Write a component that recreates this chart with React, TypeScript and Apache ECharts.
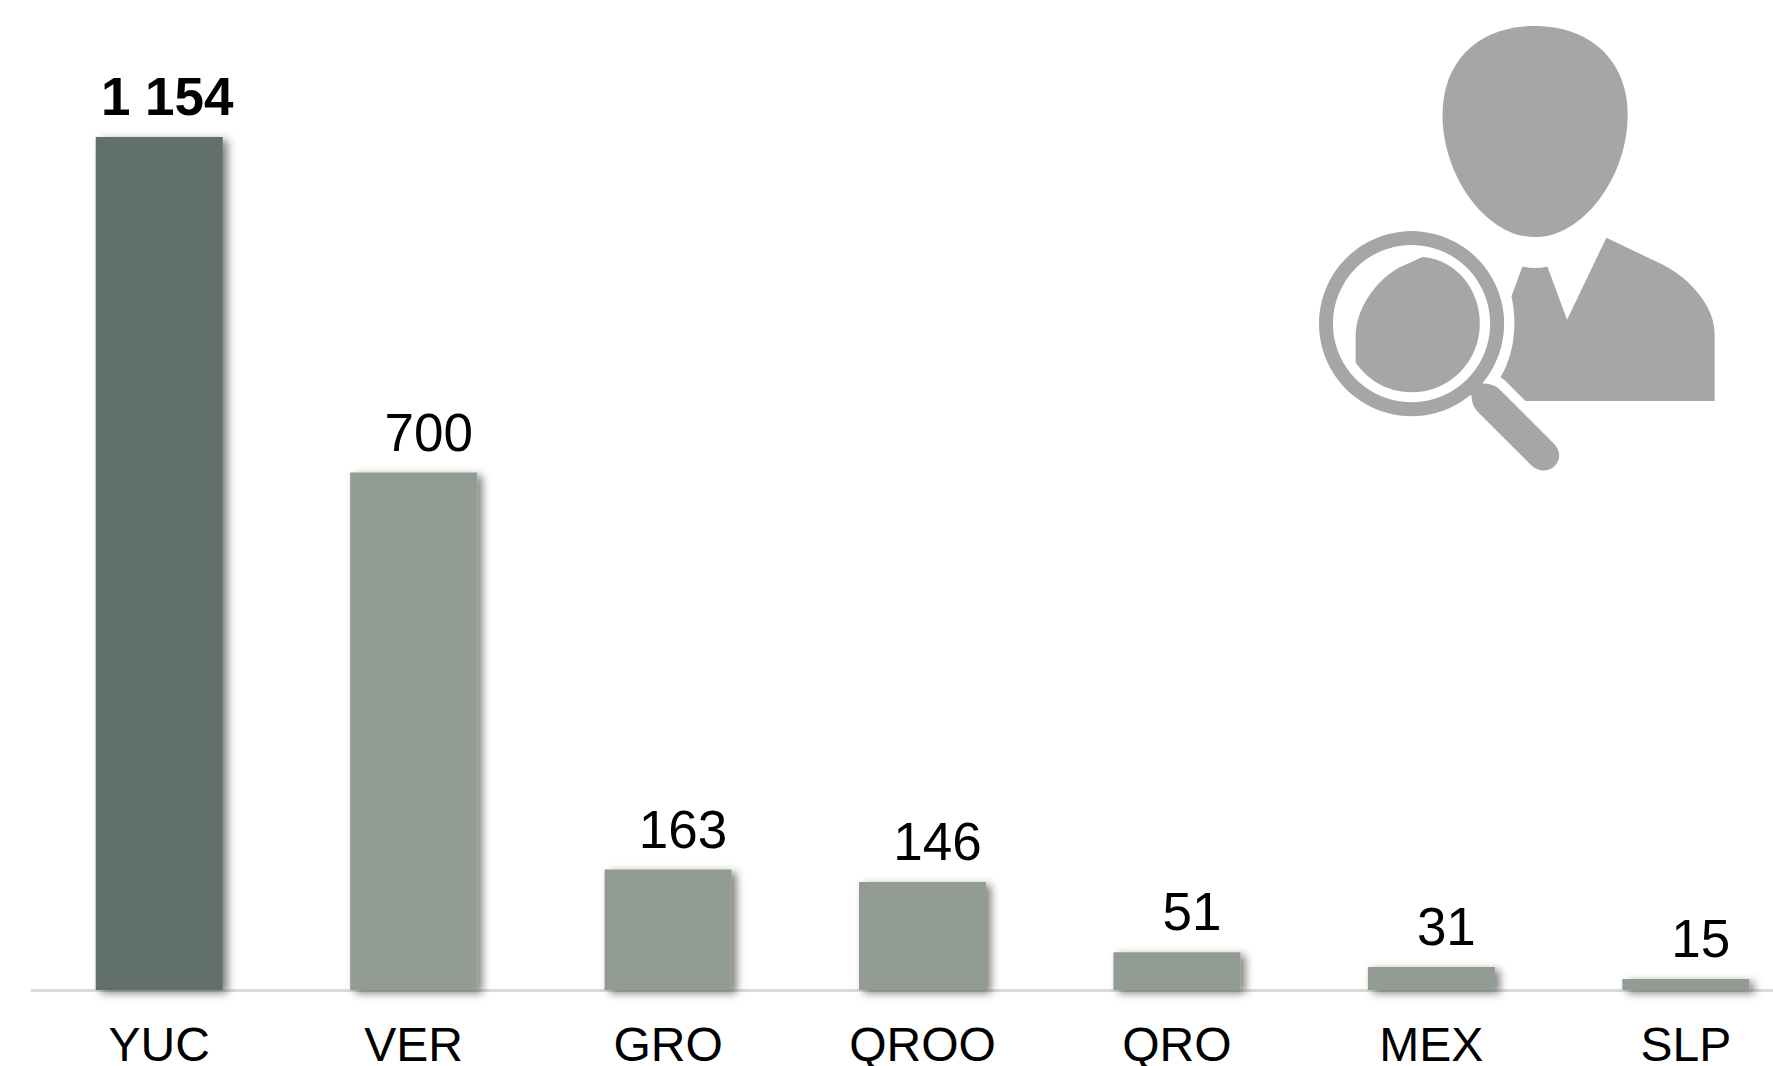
import React, { useEffect, useRef } from "react";
import * as echarts from "echarts";

const categories = ["YUC", "VER", "GRO", "QROO", "QRO", "MEX", "SLP"];
const values = [1154, 700, 163, 146, 51, 31, 15];
const valueLabels = ["1 154", "700", "163", "146", "51", "31", "15"];

const headPath = "M735 78C900 78 1014 180 1014 345C1014 530 880 712 735 712C590 712 458 530 458 345C458 180 570 78 735 78Z";
const bodyPath = "M665 890L698 800Q735 810 773 800L832 960L950 714L1120 795C1200 835 1275 920 1275 1000L1275 1204L707 1204L650 1147Q640 1137 632 1133C670 1070 685 980 665 890Z";
const handlePath = "M574 1146L580 1152C600 1152 620 1158 635 1175L795 1335C830 1375 790 1425 745 1410Q735 1408 725 1398L565 1238C550 1222 545 1205 545 1188L539 1182Z";
const innerHeadPath = "M398 772C500 780 570 870 570 972C570 1085 480 1178 365 1178C295 1178 235 1145 197 1088L197 1010C197 930 255 845 325 805Z";

echarts.graphic.registerShape("iconHead", echarts.graphic.extendPath(headPath, {}) as any);
echarts.graphic.registerShape("iconBody", echarts.graphic.extendPath(bodyPath, {}) as any);
echarts.graphic.registerShape("iconHandle", echarts.graphic.extendPath(handlePath, {}) as any);
echarts.graphic.registerShape("iconInner", echarts.graphic.extendPath(innerHeadPath, {}) as any);

const FONT = "'Liberation Sans', Arial, sans-serif";
const DARK = "#62706a";
const LIGHT = "#939c93";
const ICON = "#a6a6a6";

export default function App() {
  const ref = useRef<HTMLDivElement>(null);
  useEffect(() => {
    document.body.style.margin = "0";
    document.body.style.overflow = "hidden";
    const chart = echarts.init(ref.current!, null, { renderer: "svg" });
    const iconPart = (type: string) => ({
      type,
      x: 0,
      y: 0,
      scaleX: 1,
      scaleY: 1,
      style: { fill: ICON },
    });
    chart.setOption({
      animation: false,
      backgroundColor: "#ffffff",
      grid: { left: 32, top: 137, width: 1781, bottom: 76, containLabel: false, outerBoundsMode: "none" },
      xAxis: {
        type: "category",
        data: categories,
        axisLine: { show: true, lineStyle: { color: "#d9d9d9", width: 3 } },
        axisTick: { show: false },
        axisLabel: {
          color: "#000000",
          fontFamily: FONT,
          fontSize: 48,
          lineHeight: 40,
          margin: 34,
          interval: 0,
          hideOverlap: false,
        },
      },
      yAxis: { type: "value", min: 0, max: 1154, show: false },
      series: [
        {
          type: "bar",
          barWidth: 127,
          data: values.map((v, i) => ({
            value: v,
            itemStyle: { color: i === 0 ? DARK : LIGHT },
            label: {
              show: true,
              position: "top",
              formatter: valueLabels[i],
              color: "#000000",
              fontFamily: FONT,
              fontSize: 53,
              fontWeight: i === 0 ? "bold" : "normal",
              distance: 14,
              offset: [i === 0 ? 8 : 15, 0],
            },
          })),
          itemStyle: {
            shadowColor: "rgba(0,0,0,0.5)",
            shadowBlur: 8,
            shadowOffsetX: 5,
            shadowOffsetY: 3,
          },
        },
      ],
      graphic: [
        {
          type: "group",
          x: 1290,
          y: 0,
          scaleX: 1 / 3,
          scaleY: 1 / 3,
          silent: true,
          children: [
            iconPart("iconHead"),
            iconPart("iconBody"),
            {
              type: "ring",
              shape: { cx: 365, cy: 972, r: 278, r0: 236 },
              style: { fill: ICON },
            },
            iconPart("iconHandle"),
            iconPart("iconInner"),
          ],
        },
      ],
    });
    return () => chart.dispose();
  }, []);
  return <div ref={ref} style={{ width: 1773, height: 1066 }} />;
}
